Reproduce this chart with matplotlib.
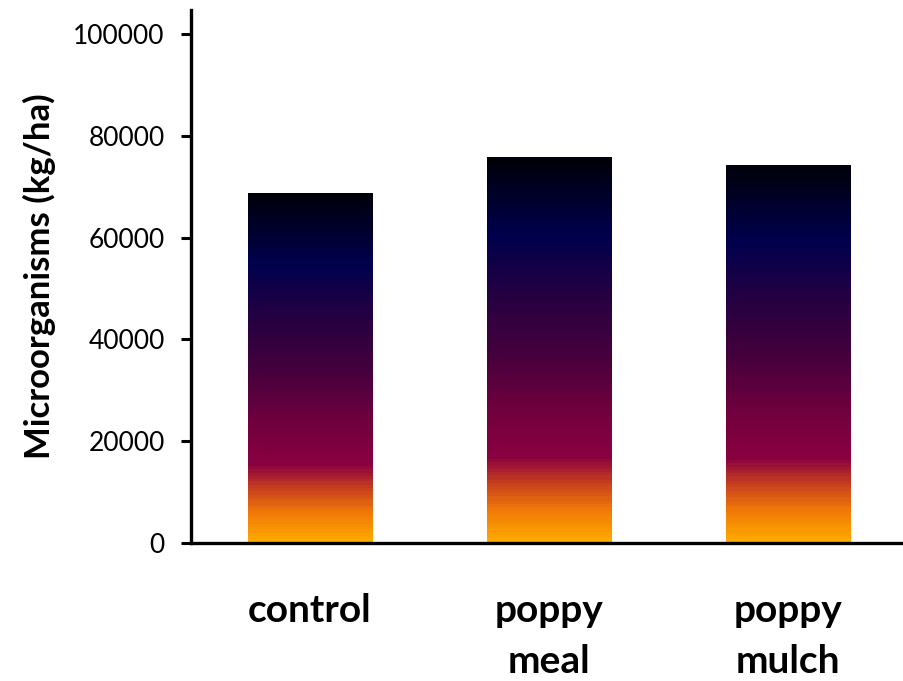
import matplotlib
matplotlib.use("Agg")
import matplotlib.pyplot as plt
import numpy as np
from matplotlib.colors import LinearSegmentedColormap

categories = ["control", "poppy\nmeal", "poppy\nmulch"]
values = [68800, 75800, 74300]
yticks = [0, 20000, 40000, 60000, 80000, 100000]

# bottom -> top colour stops of the bar fill
grad = LinearSegmentedColormap.from_list("bar_grad", [
    (0.00, "#ffaa00"),
    (0.08, "#f07a08"),
    (0.15, "#c8401e"),
    (0.22, "#8a0040"),
    (0.35, "#6e003e"),
    (0.50, "#42003c"),
    (0.65, "#240042"),
    (0.80, "#00004e"),
    (1.00, "#00000a"),
], N=110)

plt.rcParams['font.family'] = ['Lato', 'DejaVu Sans']

fig = plt.figure(figsize=(9.04, 6.81), dpi=100)
ax = fig.add_axes([0.2113, 0.2026, 0.7887, 0.7827])

x = np.arange(len(categories)) * 0.996
bars = ax.bar(x, values, width=0.52, facecolor="none", edgecolor="none")

g = np.linspace(0, 1, 256).reshape(-1, 1)
for b in bars:
    x0, w, h = b.get_x(), b.get_width(), b.get_height()
    im = ax.imshow(g, cmap=grad, origin="lower", aspect="auto",
                   extent=(x0, x0 + w, 0, h), interpolation="nearest", zorder=1)
    im.set_clip_path(b)
ax.set_xlim(-0.496, 2.475)
ax.set_ylim(0, 104700)

ax.set_yticks(yticks)
ax.set_yticklabels([str(v) for v in yticks], fontsize=19)
ax.set_xticks(x)
ax.set_xticklabels(categories, fontsize=28, fontweight="bold", linespacing=1.55, va="top")
ax.tick_params(axis="x", length=0, pad=36)
ax.tick_params(axis="y", direction="out", length=7, width=2.2, pad=12)
for s in ["top", "right"]:
    ax.spines[s].set_visible(False)
for s in ["left", "bottom"]:
    ax.spines[s].set_linewidth(2.4)
ax.set_ylabel("Microorganisms (kg/ha)", fontsize=25, fontweight="bold", labelpad=12)

fig.savefig("out.png", dpi=100)
